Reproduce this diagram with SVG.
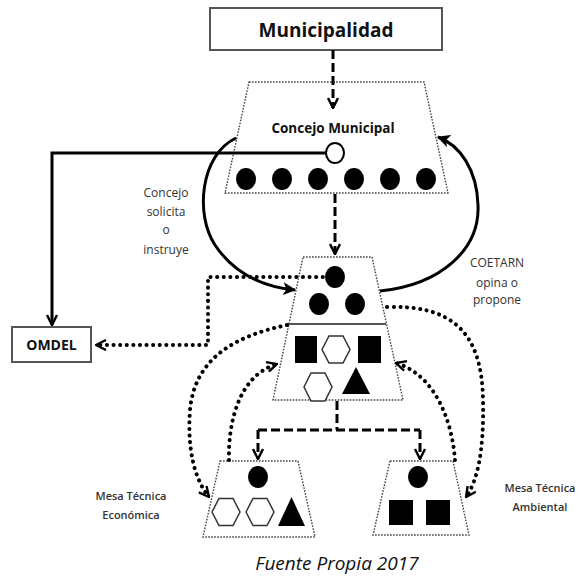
<svg xmlns="http://www.w3.org/2000/svg" width="579" height="577" viewBox="0 0 579 577">
<style>
.trap{fill:none;stroke:#444;stroke-width:1.4;stroke-dasharray:1.6 1.4}
.dot{fill:#000}
.hex{fill:#fff;stroke:#333;stroke-width:1.5}
.sq{fill:#000}
.dash{fill:none;stroke:#000;stroke-width:3;stroke-dasharray:9 4}
.solid{fill:none;stroke:#000;stroke-width:3}
.dotted{fill:none;stroke:#000;stroke-width:4;stroke-linecap:round;stroke-dasharray:0.1 6.5}
.lbl{font-family:"Open Sans","Liberation Sans",sans-serif;fill:#333;text-anchor:middle}
.bold{font-family:"Open Sans","Liberation Sans",sans-serif;font-weight:bold;fill:#111;text-anchor:middle}
</style>
<defs>
<marker id="chev" viewBox="0 0 12 12" refX="11" refY="6" markerWidth="12" markerHeight="12" markerUnits="userSpaceOnUse" orient="auto">
<path d="M1,1 L11,6 L1,11" fill="none" stroke="#000" stroke-width="2.4"/>
</marker>
<marker id="fill" viewBox="0 0 12 12" refX="11" refY="6" markerWidth="13" markerHeight="13" markerUnits="userSpaceOnUse" orient="auto">
<path d="M0,0 L12,6 L0,12 L3,6 z" fill="#000"/>
</marker>
</defs>

<g id="municipalidad">
<rect x="210" y="8" width="232" height="42" fill="#fff" stroke="#555" stroke-width="2"/>
<text x="326" y="37" class="bold" font-size="19">Municipalidad</text>
</g>

<g id="concejo-municipal">
<polygon class="trap" points="249,82 424,82 448,193 225,193"/>
<text x="333" y="133" class="bold" font-size="13.5">Concejo Municipal</text>
<ellipse cx="335" cy="153" rx="9" ry="10" fill="#fff" stroke="#000" stroke-width="2"/>
<ellipse class="dot" cx="246" cy="179" rx="10" ry="11"/>
<ellipse class="dot" cx="282" cy="179" rx="10" ry="11"/>
<ellipse class="dot" cx="318" cy="179" rx="10" ry="11"/>
<ellipse class="dot" cx="354" cy="179" rx="10" ry="11"/>
<ellipse class="dot" cx="390" cy="179" rx="10" ry="11"/>
<ellipse class="dot" cx="426" cy="179" rx="10" ry="11"/>
</g>

<g id="coetarn">
<polygon class="trap" points="303,257 372,257 403,400 273,400"/>
<line x1="288" y1="324" x2="386" y2="324" stroke="#555" stroke-width="2"/>
<ellipse class="dot" cx="335" cy="277" rx="10" ry="11"/>
<ellipse class="dot" cx="319" cy="304" rx="10" ry="11"/>
<ellipse class="dot" cx="355" cy="304" rx="10" ry="11"/>
<rect class="sq" x="295" y="336" width="22" height="27"/>
<polygon class="hex" points="322,349.5 329,336 343,336 350,349.5 343,363 329,363"/>
<rect class="sq" x="358" y="336" width="23" height="27"/>
<polygon class="hex" points="304,387 311,373 325,373 332,387 325,401 311,401"/>
<polygon fill="#000" points="356,367 370,394 342,394"/>
</g>

<g id="omdel">
<rect x="12" y="327" width="79" height="35" fill="#fff" stroke="#555" stroke-width="2"/>
<text x="51.5" y="350" class="bold" font-size="14">OMDEL</text>
</g>

<g id="mesa-economica">
<polygon class="trap" points="220,461 298,461 315,537 203,537"/>
<ellipse class="dot" cx="258" cy="477" rx="10" ry="11"/>
<polygon class="hex" points="212,512 219,498.5 233,498.5 240,512 233,525.5 219,525.5"/>
<polygon class="hex" points="246,512 253,498.5 267,498.5 274,512 267,525.5 253,525.5"/>
<polygon fill="#000" points="291.5,497 305,526 278,526"/>
</g>

<g id="mesa-ambiental">
<polygon class="trap" points="390,461 453,461 469,535 373,535"/>
<ellipse class="dot" cx="418" cy="477" rx="10" ry="11"/>
<rect class="sq" x="389" y="500" width="24" height="25"/>
<rect class="sq" x="426" y="500" width="24" height="25"/>
</g>

<g id="connectors">
<path class="dash" d="M333,50 L333,108" marker-end="url(#chev)"/>
<path class="dash" d="M335,194 L335,254" marker-end="url(#chev)"/>
<path class="dash" d="M337,401 L337,430 M258,430 L420,430"/>
<path class="dash" d="M258,430 L258,459" marker-end="url(#chev)"/>
<path class="dash" d="M420,430 L420,459" marker-end="url(#chev)"/>
<path class="solid" d="M326,153 L52,153 L52,325" marker-end="url(#chev)"/>
<path class="solid" d="M236,138 C200,155 195,215 215,245 C235,275 265,287 295,290" marker-end="url(#fill)"/>
<path class="solid" d="M380,291 C440,285 480,250 478,205 C477,170 460,145 438,137" marker-end="url(#fill)"/>
<path class="dotted" d="M336,277 L208,277 L208,345 L96,345" marker-end="url(#chev)"/>
<path class="dotted" d="M387,307 C450,305 482,330 483,400 C484,450 478,480 466,497" marker-end="url(#chev)"/>
<path class="dotted" d="M455,460 C452,420 435,375 396,363" marker-end="url(#chev)"/>
<path class="dotted" d="M287,325 C240,335 195,355 190,410 C187,450 195,480 209,497" marker-end="url(#chev)"/>
<path class="dotted" d="M229,460 C228,420 240,375 277,364" marker-end="url(#chev)"/>
</g>

<g id="labels">
<text class="lbl" font-size="12"><tspan x="166" y="197">Concejo</tspan><tspan x="166" y="216">solicita</tspan><tspan x="166" y="234">o</tspan><tspan x="166" y="254">instruye</tspan></text>
<text class="lbl" font-size="12"><tspan x="497" y="267">COETARN</tspan><tspan x="497" y="287">opina o</tspan><tspan x="497" y="304">propone</tspan></text>
<text class="lbl" font-size="11" font-weight="600"><tspan x="131" y="500">Mesa Técnica</tspan><tspan x="131" y="519">Económica</tspan></text>
<text class="lbl" font-size="11" font-weight="600"><tspan x="540" y="492">Mesa Técnica</tspan><tspan x="540" y="511">Ambiental</tspan></text>
<text x="337" y="570" font-family="'Open Sans','Liberation Sans',sans-serif" font-style="italic" font-size="19" fill="#111" text-anchor="middle">Fuente Propia 2017</text>
</g>
</svg>
